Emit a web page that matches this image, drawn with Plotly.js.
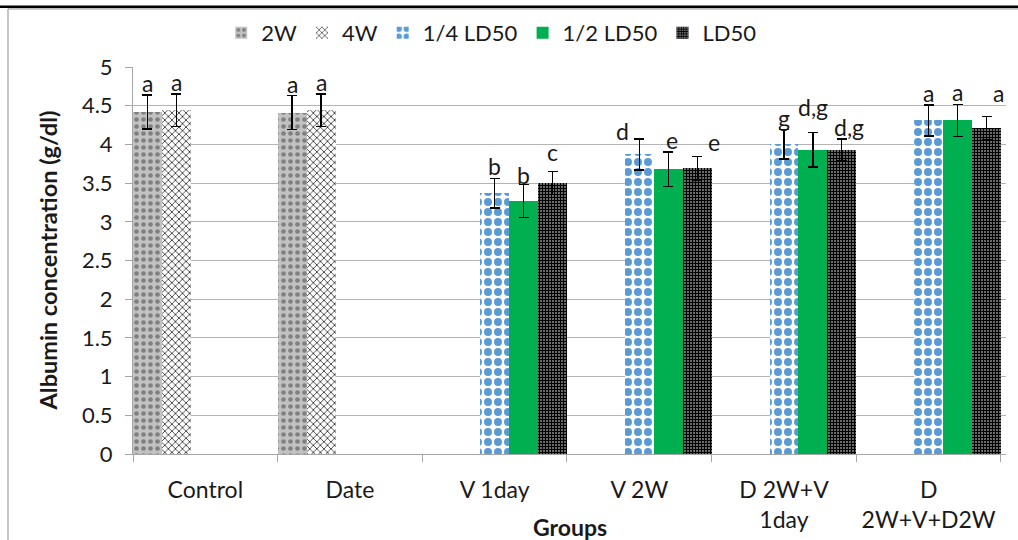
<!DOCTYPE html>
<html>
<head>
<meta charset="utf-8">
<script src="https://cdn.plot.ly/plotly-3.0.1.min.js"></script>
<style>html,body{margin:0;padding:0;background:#fff;}#chart{width:1018px;height:540px;}</style>
</head>
<body>
<div id="chart"></div>
<script>
// ---- data ----
const categories = ["Control", "Date", "V 1day", "V 2W", "D 2W+V<br>1day", "D<br>2W+V+D2W"];
const seriesNames = ["2W", "4W", "1/4 LD50", "1/2 LD50", "LD50"];

const val2W = [4.42, 4.41, null, null, null, null];
const err2W = [0.22, 0.22, null, null, null, null];
const lab2W = ["a", "a", "", "", "", ""];

const val4W = [4.44, 4.44, null, null, null, null];
const err4W = [0.21, 0.21, null, null, null, null];
const lab4W = ["a", "a", "", "", "", ""];

const valQuarter = [null, null, 3.37, 3.87, 4.00, 4.31];
const errQuarter = [null, null, 0.19, 0.20, 0.19, 0.20];
const labQuarter = ["", "", "b", "d", "g", "a"];

const valHalf = [null, null, 3.27, 3.68, 3.93, 4.31];
const errHalf = [null, null, 0.21, 0.22, 0.22, 0.21];
const labHalf = ["", "", "b", "e", "d,g", "a"];

const valLD = [null, null, 3.50, 3.69, 3.93, 4.21];
const errLD = [null, null, 0.15, 0.15, 0.14, 0.15];
const labLD = ["", "", "c", "e", "d,g", "a"];

const yTicks = [0, 0.5, 1, 1.5, 2, 2.5, 3, 3.5, 4, 4.5, 5];
const yTickText = ["0", "0.5", "1", "1.5", "2", "2.5", "3", "3.5", "4", "4.5", "5"];

// ---- styling ----
const FONT = "Lato, 'Open Sans', sans-serif";
const TXT = "#1a1a1a";

const styles = [
  {color: "#b0b0b0", pattern: {shape: ".", fgcolor: "#808080", bgcolor: "#c2c2c2", size: 7, solidity: 0.35}},
  {color: "#ffffff", pattern: {shape: "x", fgcolor: "#000000", bgcolor: "#ffffff", size: 5, solidity: 0.25}},
  {color: "#ffffff", pattern: {shape: ".", fgcolor: "#5b9bd5", bgcolor: "#ffffff", size: 10, solidity: 0.5}},
  {color: "#00b050", pattern: {shape: ""}},
  {color: "#1a1a1a", pattern: {shape: "+", fgcolor: "#000000", bgcolor: "#aaaaaa", size: 3, solidity: 0.7}}
];

// label pixel nudges (per series, per category), layout only
const labelDx = [
  [0, 0, 0, 0, 0, 0], [0, 0, 0, 0, 0, 0],
  [0, 0, 0, -17, 0, 0], [0, 0, 0, 4, 0, 0], [0, 0, 0, 17, 7, 12]
];
const labelDy = [
  [0, 0, 0, 0, 0, 0], [0, 0, 0, 0, 0, 0],
  [0, 0, 0, -4, 0, 0], [0, 0, -2, 0, 14, 0], [0, 0, 7, 3, 0, 12]
];

const vals = [val2W, val4W, valQuarter, valHalf, valLD];
const errs = [err2W, err4W, errQuarter, errHalf, errLD];
const labs = [lab2W, lab4W, labQuarter, labHalf, labLD];

const traces = vals.map((v, i) => ({
  type: "bar",
  name: seriesNames[i],
  x: categories,
  y: v,
  marker: {color: styles[i].color, pattern: styles[i].pattern, line: {width: 0}},
  error_y: {type: "data", array: errs[i], visible: true, color: "#000000", thickness: 1.3, width: 5},
  hoverinfo: "y+name"
}));

const annotations = [];
labs.forEach((arr, i) => {
  arr.forEach((t, c) => {
    if (!t) return;
    annotations.push({
      x: c + (i - 2) * 0.2,
      y: vals[i][c] + errs[i][c],
      xref: "x", yref: "y",
      text: t, showarrow: false,
      yanchor: "middle", yshift: 12 + labelDy[i][c], xshift: labelDx[i][c],
      font: {family: FONT, size: 23, color: TXT}
    });
  });
});

annotations.push({
  x: 0.5, y: -0.189, xref: "paper", yref: "paper",
  text: "<b>Groups</b>", showarrow: false, yanchor: "middle",
  font: {family: FONT, size: 23, color: TXT}
});
annotations.push({
  x: -0.0985, y: 0.5, xref: "paper", yref: "paper",
  text: "<b>Albumin concentration (g/dl)</b>", showarrow: false, textangle: -90,
  xanchor: "center", yanchor: "middle",
  font: {family: FONT, size: 23.5, color: TXT}
});

const layout = {
  width: 1018, height: 540,
  margin: {l: 133, r: 12, t: 67, b: 86},
  paper_bgcolor: "#ffffff", plot_bgcolor: "#ffffff",
  font: {family: FONT, size: 21, color: TXT},
  barmode: "group", bargap: 0, bargroupgap: 0,
  showlegend: true,
  legend: {
    orientation: "h", xref: "container", yref: "container",
    x: 0.483, xanchor: "center", y: 0.939, yanchor: "middle",
    bgcolor: "rgba(0,0,0,0)",
    font: {family: FONT, size: 22, color: TXT}, itemwidth: 30, traceorder: "normal"
  },
  xaxis: {
    type: "category", automargin: false,
    showline: true, linecolor: "#a6a6a6", linewidth: 1,
    ticks: "outside", tickson: "boundaries", ticklen: 7, tickcolor: "#a6a6a6",
    ticklabelstandoff: 15,
    showgrid: false, tickfont: {family: FONT, size: 23, color: TXT},
    fixedrange: true
  },
  yaxis: {
    range: [0, 5], tickvals: yTicks, ticktext: yTickText,
    showline: true, linecolor: "#a6a6a6", linewidth: 1,
    ticks: "outside", ticklen: 7, tickcolor: "#a6a6a6",
    ticklabelstandoff: 8,
    showgrid: true, gridcolor: "#b4b4b4", gridwidth: 1,
    zeroline: false, automargin: false,
    tickfont: {family: FONT, size: 22, color: TXT},
    fixedrange: true
  },
  annotations: annotations,
  shapes: [
    {type: "rect", xref: "paper", yref: "paper", x0: -0.1432, x1: 1.03, y0: -0.3, y1: 1.150,
     line: {color: "#8c8c8c", width: 1}, fillcolor: "rgba(0,0,0,0)", layer: "below"},
    {type: "line", xref: "paper", yref: "paper", x0: -0.16, x1: 1.03, y0: 1.156, y1: 1.156,
     line: {color: "#000000", width: 2.5}}
  ]
};

Plotly.newPlot("chart", traces, layout, {displayModeBar: false, staticPlot: true});
</script>
</body>
</html>
